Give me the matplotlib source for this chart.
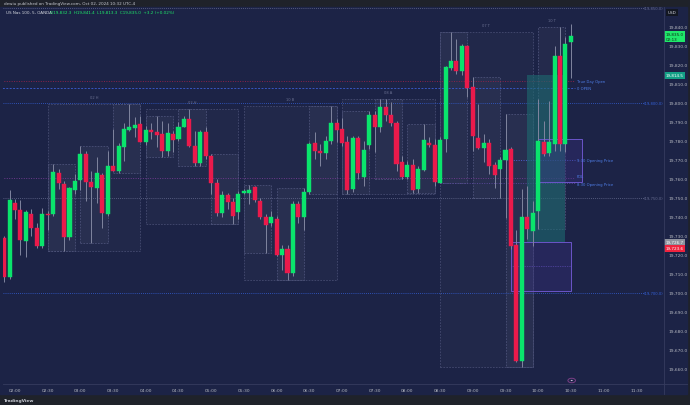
import matplotlib.pyplot as plt
from matplotlib.patches import Rectangle

# --- 5 minute candles (US Nas 100, OANDA) ---
times = ["01:50", "01:55", "02:00", "02:05", "02:10", "02:15", "02:20", "02:25", "02:30", "02:35",
         "02:40", "02:45", "02:50", "02:55", "03:00", "03:05", "03:10", "03:15", "03:20", "03:25",
         "03:30", "03:35", "03:40", "03:45", "03:50", "03:55", "04:00", "04:05", "04:10", "04:15",
         "04:20", "04:25", "04:30", "04:35", "04:40", "04:45", "04:50", "04:55", "05:00", "05:05",
         "05:10", "05:15", "05:20", "05:25", "05:30", "05:35", "05:40", "05:45", "05:50", "05:55",
         "06:00", "06:05", "06:10", "06:15", "06:20", "06:25", "06:30", "06:35", "06:40", "06:45",
         "06:50", "06:55", "07:00", "07:05", "07:10", "07:15", "07:20", "07:25", "07:30", "07:35",
         "07:40", "07:45", "07:50", "07:55", "08:00", "08:05", "08:10", "08:15", "08:20", "08:25",
         "08:30", "08:35", "08:40", "08:45", "08:50", "08:55", "09:00", "09:05", "09:10", "09:15",
         "09:20", "09:25", "09:30", "09:35", "09:40", "09:45", "09:50", "09:55", "10:00", "10:05",
         "10:10", "10:15", "10:20", "10:25", "10:30"]
opens = [19728.7, 19708.6, 19747.4, 19743.6, 19727.6, 19741.4, 19734.0, 19724.6, 19741.4, 19741.4,
         19763.4, 19757.2, 19729.4, 19754.2, 19759.2, 19773.1, 19758.5, 19755.1, 19762.1, 19741.7,
         19766.9, 19764.3, 19777.0, 19785.9, 19786.6, 19788.9, 19779.6, 19785.7, 19784.5, 19783.6,
         19774.8, 19783.6, 19780.8, 19787.5, 19791.5, 19777.4, 19768.6, 19784.8, 19772.2, 19757.7,
         19742.3, 19751.4, 19747.9, 19742.6, 19752.6, 19752.8, 19755.6, 19748.4, 19740.2, 19736.6,
         19738.7, 19720.2, 19722.9, 19710.6, 19747.0, 19740.0, 19753.1, 19778.9, 19774.8, 19773.6,
         19779.8, 19789.3, 19786.3, 19779.6, 19754.6, 19781.4, 19761.1, 19777.8, 19793.8, 19787.2,
         19798.1, 19793.8, 19789.4, 19768.7, 19761.1, 19767.3, 19754.6, 19764.8, 19778.9, 19777.8,
         19758.1, 19781.0, 19818.5, 19822.0, 19816.7, 19830.0, 19808.3, 19781.4, 19776.1, 19778.8,
         19767.5, 19765.1, 19769.9, 19775.7, 19725.5, 19664.4, 19740.2, 19732.4, 19743.1, 19779.6,
         19773.6, 19778.3, 19824.7, 19778.3, 19832.3]
highs = [19730.0, 19754.0, 19749.3, 19748.8, 19743.5, 19744.0, 19737.0, 19744.5, 19743.0, 19767.8,
         19765.1, 19759.0, 19756.0, 19762.5, 19777.5, 19774.5, 19764.3, 19771.3, 19763.4, 19774.5,
         19786.3, 19778.9, 19789.4, 19799.5, 19792.4, 19793.0, 19788.0, 19789.2, 19793.3, 19790.7,
         19789.3, 19785.4, 19789.8, 19793.3, 19796.8, 19785.4, 19785.9, 19787.2, 19773.1, 19759.9,
         19753.7, 19752.8, 19750.2, 19753.7, 19754.5, 19756.7, 19756.3, 19750.0, 19741.4, 19743.1,
         19740.5, 19725.5, 19725.5, 19748.4, 19748.4, 19755.5, 19779.2, 19784.5, 19778.3, 19782.4,
         19798.6, 19791.5, 19791.9, 19782.7, 19782.7, 19782.7, 19780.1, 19795.9, 19795.9, 19802.1,
         19802.1, 19800.4, 19790.7, 19772.2, 19769.5, 19770.4, 19766.9, 19788.9, 19781.9, 19781.0,
         19781.9, 19819.7, 19837.4, 19833.8, 19831.2, 19830.3, 19813.5, 19799.5, 19783.6, 19781.0,
         19768.7, 19771.3, 19794.2, 19776.6, 19733.4, 19754.6, 19756.3, 19748.4, 19802.1, 19790.7,
         19801.2, 19830.0, 19840.0, 19834.9, 19841.4]
lows = [19706.0, 19707.5, 19738.7, 19720.2, 19718.9, 19730.0, 19723.9, 19723.9, 19733.0, 19740.5,
        19754.7, 19722.0, 19728.0, 19752.0, 19754.2, 19748.4, 19726.4, 19747.5, 19734.3, 19740.5,
        19764.0, 19763.4, 19769.5, 19785.4, 19781.9, 19779.2, 19778.0, 19781.0, 19776.6, 19771.3,
        19772.2, 19774.0, 19780.1, 19787.2, 19777.0, 19766.6, 19766.6, 19770.4, 19751.9, 19740.5,
        19740.2, 19744.0, 19736.1, 19738.7, 19752.0, 19746.6, 19747.9, 19739.0, 19721.1, 19735.2,
        19719.3, 19712.3, 19707.0, 19708.8, 19737.0, 19733.4, 19751.9, 19770.4, 19766.9, 19770.4,
        19778.3, 19779.2, 19777.4, 19751.9, 19753.1, 19759.9, 19756.3, 19775.7, 19774.0, 19784.5,
        19790.7, 19788.1, 19764.3, 19759.9, 19759.9, 19752.8, 19752.8, 19764.3, 19776.6, 19756.3,
        19757.7, 19774.0, 19817.1, 19815.3, 19814.5, 19803.0, 19774.9, 19775.7, 19768.7, 19762.5,
        19755.5, 19750.2, 19739.6, 19722.9, 19663.9, 19661.3, 19728.2, 19724.6, 19733.5, 19772.2,
        19772.2, 19774.9, 19774.9, 19774.0, 19813.3]
closes = [19708.6, 19748.8, 19743.7, 19727.8, 19742.4, 19734.0, 19724.6, 19741.4, 19741.0, 19763.9,
          19757.7, 19729.6, 19755.5, 19759.0, 19773.1, 19758.6, 19756.0, 19763.0, 19742.3, 19766.9,
          19764.4, 19777.2, 19786.3, 19787.2, 19788.4, 19779.6, 19785.7, 19784.5, 19783.3, 19774.8,
          19784.2, 19780.5, 19787.5, 19791.4, 19777.4, 19768.6, 19784.8, 19772.2, 19757.7, 19742.3,
          19751.4, 19747.9, 19740.5, 19752.3, 19753.5, 19754.3, 19749.0, 19740.2, 19735.6, 19740.2,
          19720.2, 19722.9, 19710.6, 19747.0, 19740.0, 19753.4, 19778.3, 19774.5, 19773.6, 19780.1,
          19789.3, 19785.9, 19778.7, 19754.2, 19781.5, 19763.0, 19775.3, 19793.8, 19787.2, 19798.1,
          19793.8, 19789.4, 19767.8, 19761.1, 19767.3, 19754.0, 19765.1, 19780.6, 19777.8, 19758.3,
          19780.6, 19818.9, 19822.0, 19816.7, 19830.0, 19807.9, 19782.8, 19776.1, 19778.9, 19766.9,
          19762.1, 19769.9, 19775.2, 19724.6, 19664.4, 19740.2, 19733.9, 19741.9, 19779.9, 19773.1,
          19779.6, 19824.7, 19778.3, 19831.2, 19835.0]

# session levels
level_names = ["True Day Open", "0 OPEN", "9:30 Opening Price", "PDL", "8:30 Opening Price"]
level_prices = [19811.7, 19807.7, 19769.9, 19760.5, 19758.1]
level_starts = ["01:45", "01:45", "09:30", "01:45", "08:30"]
round_levels = [19850, 19800, 19750, 19700]

# 90 minute cycle labels
cycle_starts = ["02:30", "04:00", "05:30", "07:00", "08:30", "10:00"]
cycle_labels = ["02 H", "03 H", "10 B", "08 A", "07 T", "10 T"]

# drawn zones (start, end, top, bottom)
teal_zone = ["09:50", "10:25", 19814.5, 19727.0]
purple_zones = [["09:35", "10:30", 19726.7, 19701.2],
                ["10:00", "10:40", 19781.0, 19758.3]]

time_ticks = ["02:00", "02:30", "03:00", "03:30", "04:00", "04:30", "05:00", "05:30", "06:00", "06:30",
              "07:00", "07:30", "08:00", "08:30", "09:00", "09:30", "10:00", "10:30", "11:00", "11:30"]
price_ticks = list(range(19660, 19841, 10))


def mins(s):
    h, m = s.split(":")
    return int(h) * 60 + int(m)


x = [mins(t) for t in times]
W, H = 690, 406
BG = "#1c2346"
GREEN = "#0ae46c"
RED = "#ea1a4b"

fig = plt.figure(figsize=(6.9, 4.06), dpi=100, facecolor="#1f222a")
fig.patches.append(Rectangle((0, 1 - 395 / H), 687 / W, 387 / H, transform=fig.transFigure,
                             color=BG, zorder=-10))
ax = fig.add_axes([3 / W, 1 - 385 / H, 661 / W, 377 / H])
ax.set_facecolor(BG)
ax.set_xlim(109.0, 715.4)
ax.set_ylim(19652.1, 19850.5)
for s in ax.spines.values():
    s.set_visible(False)
fig.add_artist(plt.Line2D([3 / W, 687 / W], [1 - 385 / H] * 2, color="#363c5e", lw=0.6))
fig.add_artist(plt.Line2D([664 / W] * 2, [1 - 395 / H, 1 - 8 / H], color="#363c5e", lw=0.6))

# --- cycle boxes computed from the candles ---
for g, lab in zip(cycle_starts, cycle_labels):
    g0 = mins(g)
    idx = [i for i, t in enumerate(x) if g0 <= t < g0 + 90]
    if not idx:
        continue
    if len(idx) == 18:
        hi = max(highs[i] for i in idx)
        lo = min(lows[i] for i in idx)
        ax.add_patch(Rectangle((x[idx[0]], lo), x[idx[-1]] - x[idx[0]], hi - lo,
                               facecolor=(1, 1, 1, 0.025), edgecolor="#454b70",
                               lw=0.6, ls=(0, (2, 1.5)), zorder=1))
        ax.text((x[idx[0]] + x[idx[-1]]) / 2, hi + 2.5, lab, fontsize=2.6, color="#6a7091",
                ha="center", va="bottom")
    for s0 in (g0, g0 + 30, g0 + 60):
        sub = [i for i in idx if s0 <= x[i] < s0 + 30]
        if len(sub) < 2:
            continue
        hi = max(highs[i] for i in sub)
        lo = min(lows[i] for i in sub)
        ax.add_patch(Rectangle((x[sub[0]], lo), x[sub[-1]] - x[sub[0]], hi - lo,
                               facecolor=(1, 1, 1, 0.035), edgecolor="#4b5178",
                               lw=0.6, ls=(0, (2, 1.5)), zorder=1))
        if len(idx) < 18 and s0 == g0:
            ax.text((x[sub[0]] + x[sub[-1]]) / 2, hi + 2.5, lab, fontsize=2.6,
                    color="#6a7091", ha="center", va="bottom")

# teal and purple zones
ts, te, tt, tb = teal_zone
ax.add_patch(Rectangle((mins(ts), tb), mins(te) - mins(ts), tt - tb,
                       facecolor="#1d6a70", alpha=0.6, lw=0, zorder=1.5))
for zs, ze, zt, zb in purple_zones:
    ax.add_patch(Rectangle((mins(zs), zb), mins(ze) - mins(zs), zt - zb, facecolor="#3b3184",
                           alpha=0.35, edgecolor="none", zorder=1.5))
    ax.add_patch(Rectangle((mins(zs), zb), mins(ze) - mins(zs), zt - zb, facecolor="none",
                           edgecolor="#6b55c9", lw=0.7, zorder=1.6))
zs, ze, zt, zb = purple_zones[0]
ax.plot([mins(zs), mins(ze)], [(zt + zb) / 2] * 2, color="#6b55c9", lw=0.5, ls=(0, (1, 1.5)), zorder=1.6)

# round number levels
for p in round_levels:
    c = "#3360d8" if p % 100 == 0 else "#666c90"
    ax.plot([109, 697], [p, p], color=c, lw=0.6, ls=(0, (1, 1.5)), zorder=1.2)
    ax.text(714.5, p, f"({p:,.1f})", fontsize=2.7, color=c, ha="right", va="center")

# session levels
lvl_style = {"True Day Open": ("#8c2448", (0, (1, 1.5))),
             "0 OPEN": ("#3756c0", (0, (2, 1.5))),
             "9:30 Opening Price": ("#4e5fcf", (0, (1, 1.5))),
             "PDL": ("#6e3a8c", (0, (1, 1.5))),
             "8:30 Opening Price": ("#58479a", (0, (1, 1.5)))}
for name, p, st in zip(level_names, level_prices, level_starts):
    c, ls = lvl_style[name]
    ax.plot([mins(st), 633.8], [p, p], color=c, lw=0.7, ls=ls, zorder=1.3)
    yoff = 1.2 if name == "PDL" else (-1.0 if name == "8:30 Opening Price" else 0)
    ax.text(635.6, p + yoff, name, fontsize=2.7, color="#4f7ee8", ha="left", va="center")

# candles
for xi, o, h, l, c in zip(x, opens, highs, lows, closes):
    col = GREEN if c >= o else RED
    ax.vlines(xi, l, h, color="#80859f", lw=0.7, zorder=2)
    ax.bar(xi, max(abs(c - o), 0.5), bottom=min(o, c), width=3.7, color=col,
           edgecolor=col, lw=0.3, zorder=3)

# axes ticks
ax.yaxis.tick_right()
ax.set_yticks(price_ticks)
ax.set_yticklabels([f"{p:,.1f}" for p in price_ticks])
ax.set_xticks([mins(t) for t in time_ticks])
ax.set_xticklabels(time_ticks)
ax.tick_params(axis="both", length=0, labelsize=3.2, labelcolor="#b2b5be")
ax.tick_params(axis="y", pad=3)
ax.tick_params(axis="x", pad=3)

# price tags on axis
tr = ax.get_yaxis_transform()
ax.text(1.0025, 19835.0, "19,835.0\n02:13", transform=tr, fontsize=3.0, color="#0d2a18",
        va="center", ha="left", linespacing=1.1,
        bbox=dict(boxstyle="square,pad=0.35", fc="#1fe86a", ec="none"))
ax.text(1.0025, 19814.5, "19,814.5", transform=tr, fontsize=3.0, color="white", va="center",
        ha="left", bbox=dict(boxstyle="square,pad=0.35", fc="#139f86", ec="none"))
ax.text(1.0025, 19726.7, "19,726.7", transform=tr, fontsize=3.0, color="white", va="center",
        ha="left", bbox=dict(boxstyle="square,pad=0.35", fc="#8f939e", ec="none"))
ax.text(1.0025, 19723.6, "19,723.6", transform=tr, fontsize=3.0, color="white", va="center",
        ha="left", bbox=dict(boxstyle="square,pad=0.35", fc="#f0243f", ec="none"))
fig.text(668 / W, 1 - 13.5 / H, "USD", fontsize=3.0, color="#d1d4dc", va="center", ha="left",
         bbox=dict(boxstyle="square,pad=0.4", fc="#131722", ec="none"))

# event marker on the time axis
fig.add_artist(plt.Circle((571.7 / W, 1 - 381.5 / H), 0.0055, transform=fig.transFigure,
                          fc="none", ec="#7b3f86", lw=0.7))
fig.add_artist(plt.Circle((571.7 / W, 1 - 381.5 / H), 0.0015, transform=fig.transFigure,
                          fc="#c9b6d8", ec="none"))

# header texts
fig.text(4 / W, 1 - 4 / H, "dewiu published on TradingView.com, Oct 02, 2024 10:32 UTC-4",
         fontsize=3.0, color="#c5c8d0", va="center", ha="left")
fig.text(6 / W, 1 - 13 / H, "US Nas 100, 5, OANDA", fontsize=3.0, color="#d1d4dc",
         va="center", ha="left")
fig.text(50 / W, 1 - 13 / H, "O19,832.3  H19,841.4  L19,813.3  C19,835.0  +3.2 (+0.02%)",
         fontsize=3.0, color="#1fe86a", va="center", ha="left")
fig.text(4 / W, 1 - 401 / H, "TradingView", fontsize=3.2, color="#c5c8d0", va="center",
         ha="left", fontweight="bold")

fig.savefig("out.png", dpi=100, facecolor=fig.get_facecolor())
